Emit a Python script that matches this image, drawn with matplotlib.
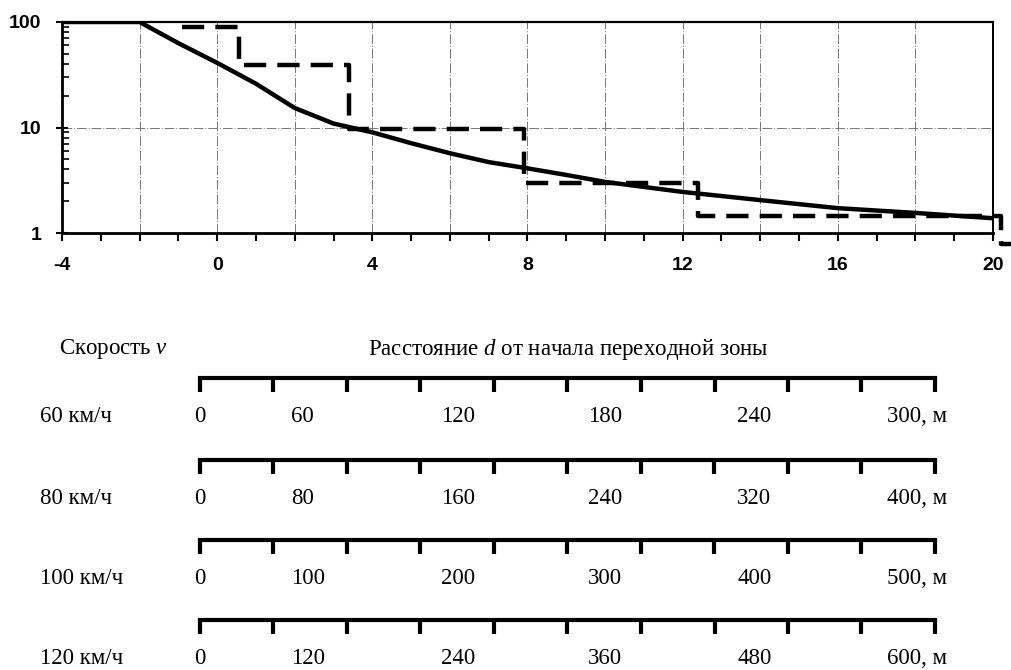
import matplotlib
matplotlib.use('Agg')
import matplotlib.pyplot as plt
import matplotlib.ticker as mticker
import numpy as np

plt.rcParams['font.family'] = ['Liberation Sans', 'DejaVu Sans']
plt.rcParams['axes.unicode_minus'] = False
plt.rcParams['mathtext.fontset'] = 'custom'
plt.rcParams['mathtext.rm'] = 'Liberation Serif'
plt.rcParams['mathtext.it'] = 'Liberation Serif:italic'

# --- top chart: solid curve and dashed step line ---
curve_t = [-4, -2, -1, 0, 1, 2, 3, 4, 5, 6, 7, 8, 9, 10, 12, 14, 16, 18, 20]
curve_v = [100, 100, 63, 41, 26, 15.3, 10.9, 9.0, 7.1, 5.7, 4.7, 4.1, 3.55, 3.05, 2.45, 2.05, 1.72, 1.55, 1.38]

step_t = [-0.9, 0.55, 3.4, 7.9, 12.4, 20.2, 20.6]
step_v = [90, 39, 9.7, 3.0, 1.45, 0.78, 0.78]

# --- bottom: distance scales per speed ---
speeds = ['60 км/ч', '80 км/ч', '100 км/ч', '120 км/ч']
ruler_max = [300, 400, 500, 600]
dist_labels = [
    ['0', '60', '120', '180', '240', '300, м'],
    ['0', '80', '160', '240', '320', '400, м'],
    ['0', '100', '200', '300', '400', '500, м'],
    ['0', '120', '240', '360', '480', '600, м'],
]
label_frac = [-0.008, 0.124, 0.328, 0.528, 0.731, 0.935]

W, H = 1012, 670
fig = plt.figure(figsize=(W / 100, H / 100), dpi=100)

ax = fig.add_axes([62 / W, 1 - 233 / H, 931 / W, 211 / H])
ax.set_yscale('log')
ax.set_xlim(-4, 20)
ax.set_ylim(1, 100)

ax.plot(curve_t, curve_v, color='black', lw=3.2, solid_capstyle='butt', zorder=3)
ax.plot(step_t, step_v, color='black', lw=3.2, drawstyle='steps-post',
        linestyle=(0, (5, 2.5)), clip_on=False, zorder=4)

for x in range(-2, 20, 2):
    ax.axvline(x, color='#777777', lw=0.7, linestyle=(0, (10, 2, 1, 2)), zorder=1)
ax.axhline(10, color='#777777', lw=0.7, linestyle=(0, (10, 2, 1, 2)), zorder=1)

ax.xaxis.set_major_locator(mticker.MultipleLocator(4))
ax.xaxis.set_minor_locator(mticker.MultipleLocator(1))
ax.yaxis.set_major_formatter(mticker.FuncFormatter(lambda v, p: '%d' % v))
ax.yaxis.set_minor_formatter(mticker.NullFormatter())
ax.tick_params(axis='x', which='both', direction='out', length=6, width=1.5, pad=11, labelsize=14)
ax.tick_params(axis='y', which='major', direction='inout', length=8, width=1.5, pad=11, labelsize=14)
ax.tick_params(axis='y', which='minor', direction='in', length=5, width=1.2)
for lbl in ax.get_xticklabels() + ax.get_yticklabels():
    lbl.set_fontweight('bold')
for side, w in [('top', 1.6), ('bottom', 2.0), ('left', 2.0), ('right', 1.4)]:
    ax.spines[side].set_linewidth(w)

# --- headers ---
serif = ['Liberation Serif', 'DejaVu Serif']
fs = 16.5
fig.text(59 / W, 1 - 349 / H, 'Скорость $v$', family=serif, fontsize=fs, va='center', ha='left')
fig.text(568 / W, 1 - 349 / H, 'Расстояние $d$ от начала переходной зоны', family=serif,
         fontsize=fs, va='center', ha='center')

ruler_top = [378, 460, 540, 620]
rh = 60
for i, L in enumerate(ruler_max):
    r = fig.add_axes([200 / W, 1 - (ruler_top[i] + rh) / H, 735 / W, rh / H])
    r.set_xlim(0, L)
    r.set_ylim(0, 1)
    r.patch.set_alpha(0)
    for side in ['bottom', 'left', 'right']:
        r.spines[side].set_visible(False)
    r.spines['top'].set_linewidth(3)
    r.spines['top'].set_capstyle('projecting')
    r.set_yticks([])
    r.set_xticks(np.linspace(0, L, 11))
    r.xaxis.set_ticks_position('top')
    r.tick_params(axis='x', direction='in', length=10, width=3, labeltop=False, labelbottom=False)
    for f, s in zip(label_frac, dist_labels[i]):
        r.text(f, 0.35, s, transform=r.transAxes, family=serif, fontsize=fs, ha='left', va='center')
    r.text(-0.218, 0.35, speeds[i], transform=r.transAxes, family=serif, fontsize=fs,
           ha='left', va='center')

fig.savefig('out.png', dpi=100)
